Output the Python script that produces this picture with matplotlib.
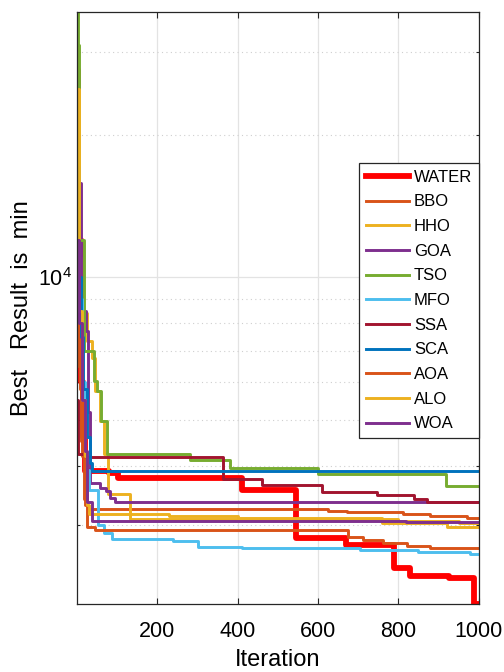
import matplotlib
matplotlib.use("Agg")
import matplotlib.pyplot as plt
from matplotlib.ticker import LogLocator, NullFormatter, LogFormatterSciNotation

plt.rcParams['font.family'] = ['Liberation Sans', 'DejaVu Sans']
plt.rcParams['mathtext.default'] = 'regular'

# convergence curves, stored as (iteration where a new best is found, best value)
names = ['WATER', 'BBO', 'HHO', 'GOA', 'TSO', 'MFO', 'SSA', 'SCA', 'AOA', 'ALO', 'WOA']

water_it = [1, 4, 10, 16, 21, 80, 103, 411, 545, 670, 789, 829, 926, 988, 1000]
water_val = [27500, 12000, 6000, 4600, 3900, 3850, 3760, 3547, 2817, 2713, 2432, 2336, 2314, 2038, 2038]

bbo_it = [1, 3, 8, 14, 21, 29, 625, 672, 811, 878, 970, 1000]
bbo_val = [27000, 9000, 5800, 4200, 3300, 3245, 3209, 3185, 3157, 3131, 3105, 3105]

hho_it = [1, 3, 10, 26, 39, 46, 58, 68, 78, 133, 800, 950, 1000]
hho_val = [31000, 11000, 8400, 7350, 6740, 5760, 4980, 4240, 3487, 3086, 3050, 3031, 3031]

goa_it = [1, 10, 15, 22, 28, 34, 58, 73, 83, 96, 1000]
goa_val = [15800, 10000, 8500, 7700, 5200, 3684, 3594, 3537, 3424, 3348, 3348]

tso_it = [1, 3, 6, 19, 43, 50, 60, 75, 282, 381, 600, 918, 1000]
tso_val = [36400, 31000, 12000, 7000, 6050, 5760, 4980, 4238, 4114, 3963, 3849, 3625, 3625]

mfo_it = [1, 5, 12, 20, 30, 53, 68, 88, 240, 302, 411, 451, 705, 848, 978, 1000]
mfo_val = [15800, 9000, 6000, 3920, 3550, 3000, 2880, 2795, 2765, 2696, 2685, 2679, 2649, 2627, 2605, 2605]

ssa_it = [1, 4, 20, 364, 461, 610, 746, 838, 871, 1000]
ssa_val = [5500, 4238, 4170, 3757, 3642, 3525, 3464, 3397, 3358, 3358]

sca_it = [1, 5, 10, 16, 25, 33, 39, 1000]
sca_val = [17100, 10000, 7500, 5800, 4600, 4050, 3901, 3901]

aoa_it = [1, 4, 10, 18, 26, 46, 675, 712, 761, 821, 878, 1000]
aoa_val = [9500, 6500, 4500, 3400, 2960, 2920, 2819, 2779, 2738, 2705, 2683, 2683]

alo_it = [1, 5, 12, 20, 26, 30, 230, 400, 760, 920, 1000]
alo_val = [25000, 8500, 5500, 4200, 3300, 3166, 3131, 3095, 3030, 2968, 2968]

woa_it = [1, 5, 12, 20, 26, 38, 820, 1000]
woa_val = [11980, 8000, 5500, 4300, 3350, 3056, 3034, 3034]

all_it = [water_it, bbo_it, hho_it, goa_it, tso_it, mfo_it, ssa_it, sca_it, aoa_it, alo_it, woa_it]
all_val = [water_val, bbo_val, hho_val, goa_val, tso_val, mfo_val, ssa_val, sca_val, aoa_val, alo_val, woa_val]

# MATLAB default line colours
colors = ['#FF0000', '#D95319', '#EDB120', '#7E2F8E', '#77AC30', '#4DBEEE',
          '#A2142F', '#0072BD', '#D95319', '#EDB120', '#7E2F8E']
widths = [4.2, 2.1, 2.1, 2.1, 2.1, 2.1, 2.1, 2.1, 2.1, 2.1, 2.1]

fig = plt.figure(figsize=(5.04, 6.72), dpi=100)
ax = fig.add_axes([0.153, 0.101, 0.797, 0.881])

for it, val, name, c, lw in zip(all_it, all_val, names, colors, widths):
    ax.step(it, val, where='post', color=c, lw=lw, label=name)

ax.set_yscale('log')
ax.set_xlim(1, 1000)
lo = min(min(v) for v in all_val)
hi = max(max(v) for v in all_val)
ax.set_ylim(lo, hi)
ax.set_xticks([200, 400, 600, 800, 1000])
ax.yaxis.set_major_locator(LogLocator(base=10))
ax.yaxis.set_major_formatter(LogFormatterSciNotation())
ax.yaxis.set_minor_locator(LogLocator(base=10, subs=range(2, 10)))
ax.yaxis.set_minor_formatter(NullFormatter())

# grid: solid for major, dotted for minor
ax.grid(True, which='major', color='#e3e3e3', lw=0.9, ls='-')
ax.grid(True, which='minor', axis='y', color='#cfcfcf', lw=0.8, ls=(0, (1, 3)))
ax.set_axisbelow(True)

ax.tick_params(which='both', direction='in', top=True, right=True,
               colors='#262626', labelsize=15.5, labelcolor='black')
ax.tick_params(which='major', length=4.5, width=0.8)
ax.tick_params(which='minor', length=2.5, width=0.8)
ax.tick_params(axis='x', which='major', pad=12)
for s in ax.spines.values():
    s.set_color('#262626')
    s.set_linewidth(0.9)

ax.set_xlabel('Iteration', fontsize=17, labelpad=5)
ax.set_ylabel('Best   Result  is  min', fontsize=17, labelpad=4)

leg = ax.legend(loc='upper right', bbox_to_anchor=(1.0, 0.745), borderaxespad=0,
                fontsize=12, fancybox=False, framealpha=1, edgecolor='#262626',
                handlelength=2.6, handletextpad=0.3, labelspacing=0.58,
                borderpad=0.4)
leg.get_frame().set_linewidth(0.9)

plt.savefig('out.png', dpi=100)
